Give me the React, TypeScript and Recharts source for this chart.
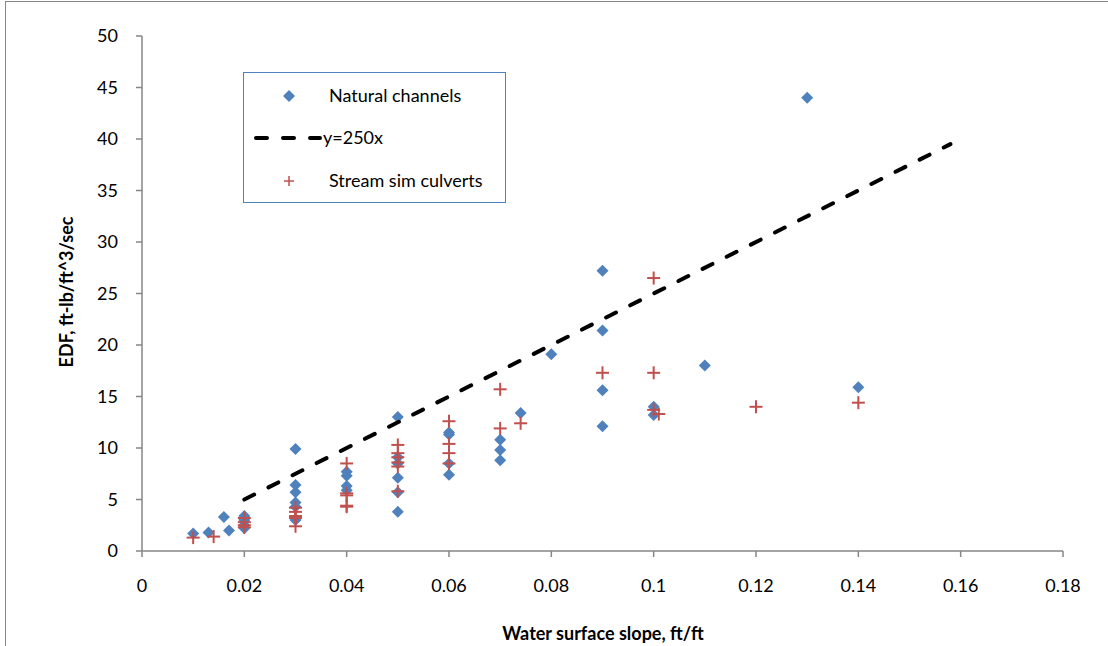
import React from 'react';
import { ScatterChart, Scatter, XAxis, YAxis, Legend } from 'recharts';

// [slope, EDF] pairs
const naturalChannels: [number, number][] = [
  [0.01, 1.7], [0.013, 1.8], [0.016, 3.3], [0.017, 2.0],
  [0.02, 3.4], [0.02, 3.0], [0.02, 2.5], [0.02, 2.2],
  [0.03, 9.9], [0.03, 6.4], [0.03, 5.7], [0.03, 4.7], [0.03, 4.3], [0.03, 3.0],
  [0.04, 7.7], [0.04, 7.3], [0.04, 6.3], [0.04, 5.9],
  [0.05, 13.0], [0.05, 9.1], [0.05, 8.5], [0.05, 7.1], [0.05, 5.7], [0.05, 3.8],
  [0.06, 11.5], [0.06, 11.3], [0.06, 8.5], [0.06, 7.4],
  [0.07, 10.8], [0.07, 9.8], [0.07, 8.8],
  [0.074, 13.4], [0.08, 19.1],
  [0.09, 27.2], [0.09, 21.4], [0.09, 15.6], [0.09, 12.1],
  [0.1, 14.0], [0.1, 13.2],
  [0.11, 18.0], [0.13, 44.0], [0.14, 15.9],
];

const streamSimCulverts: [number, number][] = [
  [0.01, 1.3], [0.014, 1.4],
  [0.02, 3.2], [0.02, 2.8], [0.02, 2.5], [0.02, 2.3],
  [0.03, 4.2], [0.03, 3.8], [0.03, 3.4], [0.03, 3.2], [0.03, 2.4],
  [0.04, 8.5], [0.04, 5.6], [0.04, 5.4], [0.04, 4.4], [0.04, 4.3],
  [0.05, 10.3], [0.05, 9.5], [0.05, 9.1], [0.05, 8.6], [0.05, 8.2], [0.05, 5.8],
  [0.06, 12.6], [0.06, 10.4], [0.06, 9.5], [0.06, 8.5],
  [0.07, 15.7], [0.07, 11.9],
  [0.074, 12.4],
  [0.09, 17.3],
  [0.1, 26.5], [0.1, 17.3], [0.1, 13.7], [0.101, 13.3],
  [0.12, 14.0], [0.14, 14.4],
];

// y = 250x trend line end points
const trendLine: [number, number][] = [
  [0.02, 5],
  [0.158, 39.5],
];

const xTicks = [0, 0.02, 0.04, 0.06, 0.08, 0.1, 0.12, 0.14, 0.16, 0.18];
const yTicks = [0, 5, 10, 15, 20, 25, 30, 35, 40, 45, 50];

const seriesNames = ['Natural channels', 'y=250x', 'Stream sim culverts'];

const BLUE = '#4f81bd';
const RED = '#c0504d';
const AXIS = '#868686';
const FONT = 'Lato, "Open Sans", sans-serif';

const toPoints = (pairs: [number, number][]) => pairs.map(([x, y]) => ({ x, y }));

const Diamond = (props: any) => {
  const { cx, cy } = props;
  if (cx == null || cy == null) return <g />;
  const r = 6;
  return <polygon points={`${cx},${cy - r} ${cx + r},${cy} ${cx},${cy + r} ${cx - r},${cy}`} fill={BLUE} />;
};

const Plus = (props: any) => {
  const { cx, cy } = props;
  if (cx == null || cy == null) return <g />;
  const r = 6.5;
  return (
    <g stroke={RED} strokeWidth={2}>
      <line x1={cx - r} y1={cy} x2={cx + r} y2={cy} />
      <line x1={cx} y1={cy - r} x2={cx} y2={cy + r} />
    </g>
  );
};

const NoDot = () => <g />;

const legendSymbol = (name: string) => {
  if (name === seriesNames[0]) {
    return (
      <svg width={80} height={20} style={{ position: 'absolute', left: 5, top: -10 }}>
        <polygon points="40,4 46,10 40,16 34,10" fill={BLUE} />
      </svg>
    );
  }
  if (name === seriesNames[1]) {
    return (
      <svg width={80} height={20} style={{ position: 'absolute', left: 5, top: -10 }}>
        <line x1={7} y1={10} x2={71} y2={10} stroke="#000" strokeWidth={4} strokeDasharray="11 16" strokeLinecap="round" />
      </svg>
    );
  }
  return (
    <svg width={80} height={20} style={{ position: 'absolute', left: 5, top: -10 }}>
      <g stroke={RED} strokeWidth={1.5}>
        <line x1={35} y1={10} x2={45} y2={10} />
        <line x1={40} y1={5} x2={40} y2={15} />
      </g>
    </svg>
  );
};

const renderLegend = (props: any) => {
  const payload = [...(props.payload || [])].sort(
    (a: any, b: any) => seriesNames.indexOf(a.value) - seriesNames.indexOf(b.value)
  );
  const rowTops = [23, 65, 108];
  return (
    <div
      style={{
        position: 'relative',
        width: 263,
        height: 131,
        boxSizing: 'border-box',
        border: `1.5px solid ${BLUE}`,
        background: '#fff',
        fontFamily: FONT,
        fontSize: 18,
        color: '#000',
      }}
    >
      {payload.map((entry: any, i: number) => (
        <div key={entry.value} style={{ position: 'absolute', left: 0, top: rowTops[i] ?? 0, width: '100%' }}>
          {legendSymbol(entry.value)}
          <span
            style={{
              position: 'absolute',
              left: entry.value === seriesNames[1] ? 79 : 85,
              top: -12,
              lineHeight: '22px',
              whiteSpace: 'nowrap',
            }}
          >
            {entry.value}
          </span>
        </div>
      ))}
    </div>
  );
};

export default function App() {
  return (
    <div
      style={{
        position: 'absolute',
        left: 0,
        top: 0,
        width: 1108,
        height: 646,
        background: '#fff',
        borderLeft: `1.5px solid ${AXIS}`,
        borderTop: `1.5px solid ${AXIS}`,
        boxSizing: 'border-box',
        marginLeft: 5,
        marginTop: 1,
      }}
    >
      <div style={{ position: 'absolute', left: -6, top: -2 }}>
        <ScatterChart width={1108} height={646} margin={{ top: 36, right: 45, bottom: 55, left: 62 }}>
          <XAxis
            type="number"
            dataKey="x"
            domain={[0, 0.18]}
            ticks={xTicks}
            tickFormatter={(v) => String(v)}
            stroke={AXIS}
            strokeWidth={1.5}
            tickSize={6}
            tickMargin={22}
            height={40}
            tick={{ fill: '#000', fontSize: 18, fontFamily: FONT }}
            allowDataOverflow
            label={{
              content: () => (
                <text x={603} y={633} textAnchor="middle" dominantBaseline="central" fontFamily={FONT} fontWeight={700} fontSize={18} fill="#000">
                  Water surface slope, ft/ft
                </text>
              ),
            }}
          />
          <YAxis
            type="number"
            dataKey="y"
            domain={[0, 50]}
            ticks={yTicks}
            stroke={AXIS}
            strokeWidth={1.5}
            tickSize={6}
            tickMargin={18}
            width={80}
            tick={{ fill: '#000', fontSize: 18, fontFamily: FONT }}
            label={{
              content: () => (
                <text
                  x={66}
                  y={292}
                  transform="rotate(-90 66 292)"
                  textAnchor="middle"
                  dominantBaseline="central"
                  fontFamily={FONT}
                  fontWeight={700}
                  fontSize={18}
                  fill="#000"
                >
                  EDF, ft-lb/ft^3/sec
                </text>
              ),
            }}
          />
          <Legend
            layout="vertical"
            align="center"
            verticalAlign="middle"
            content={renderLegend}
            wrapperStyle={{ left: 243, top: 72, width: 263, height: 131 }}
          />
          <Scatter name={seriesNames[0]} data={toPoints(naturalChannels)} fill={BLUE} shape={Diamond} isAnimationActive={false} />
          <Scatter
            name={seriesNames[1]}
            data={toPoints(trendLine)}
            fill="#000"
            shape={NoDot}
            line={{ stroke: '#000', strokeWidth: 4, strokeDasharray: '11 16', strokeLinecap: 'round' }}
            isAnimationActive={false}
          />
          <Scatter name={seriesNames[2]} data={toPoints(streamSimCulverts)} fill={RED} shape={Plus} isAnimationActive={false} />
        </ScatterChart>
      </div>
    </div>
  );
}
